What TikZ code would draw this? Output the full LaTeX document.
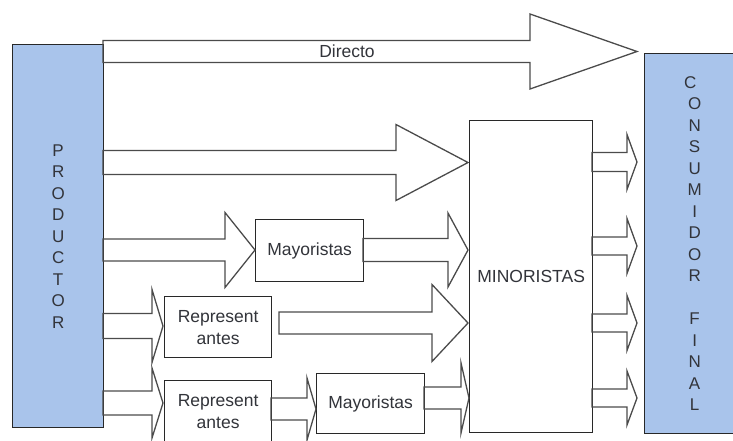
\documentclass[tikz,border=0pt]{standalone}
\usepackage{fontspec}
\setmainfont{Liberation Sans}
\definecolor{bluefill}{RGB}{169,196,235}
\definecolor{boxline}{RGB}{40,40,40}
\definecolor{arrowline}{RGB}{75,75,75}
\definecolor{txt}{RGB}{50,52,58}
% hollow block arrow: tail x, head start x, tip x, centre y, shaft half-height, head half-height
\newcommand\blockarrow[6]{%
  \draw[flow] (#1,#4-#5) -- (#2,#4-#5) -- (#2,#4-#6) -- (#3,#4)
    -- (#2,#4+#6) -- (#2,#4+#5) -- (#1,#4+#5) -- cycle;}
\begin{document}
\begin{tikzpicture}[x=1pt,y=-1pt,
  box/.style={draw=boxline, line width=1.3pt, fill=white, inner sep=0pt,
    text=txt, anchor=north west, align=center,
    font=\fontsize{17.5}{22}\selectfont},
  bluebox/.style={box, fill=bluefill, font=\fontsize{17}{21.5}\selectfont},
  flow/.style={draw=arrowline, line width=1.3pt, line join=miter},
  lbl/.style={text=txt, font=\fontsize{17.5}{21.5}\selectfont, inner sep=0pt}]
\useasboundingbox (0,0) rectangle (733,440);
\clip (0,0) rectangle (733,440);

% actors
\node[bluebox, minimum width=91pt, minimum height=383pt] (prod) at (12,44)
  {P\\R\\O\\D\\U\\C\\T\\O\\R};
\node[bluebox, minimum width=100pt, minimum height=380pt, text width=91pt] (cons) at (644,53)
  {\hspace*{-9pt}C\\O\\N\\S\\U\\M\\I\\D\\O\\R\\\mbox{}\\F\\I\\N\\A\\L};

% intermediaries
\node[box, minimum width=123pt, minimum height=312pt] (minor) at (469,120) {MINORISTAS};
\node[box, minimum width=108pt, minimum height=62pt] (may1) at (255,219) {Mayoristas};
\node[box, minimum width=107pt, minimum height=61pt] (rep1) at (164,296) {Represent\\antes};
\node[box, minimum width=107pt, minimum height=61pt] (rep2) at (164,380) {Represent\\antes};
\node[box, minimum width=108pt, minimum height=60pt] (may2) at (316,373) {Mayoristas};

% distribution channels
\blockarrow{103}{530}{637}{51.5}{11}{37.5}
\node[lbl] (directo) at (347,51) {Directo};
\blockarrow{103}{396}{468}{162.5}{12}{38}
\blockarrow{103}{225}{255}{250}{11}{37.5}
\blockarrow{363}{448}{468}{250}{11.5}{37}
\blockarrow{103}{152}{163}{326}{12.5}{36.5}
\blockarrow{279}{432}{468}{323}{11}{38.5}
\blockarrow{103}{152}{163}{403}{12}{35}
\blockarrow{271}{307}{316}{409}{11}{31}
\blockarrow{424}{461}{469}{398}{11}{35}

% retail to final consumer
\blockarrow{592}{627}{637}{162}{9.5}{27.5}
\blockarrow{592}{627}{637}{246}{9}{27.5}
\blockarrow{592}{627}{637}{323}{9}{27.5}
\blockarrow{592}{627}{637}{398}{9}{27}
\end{tikzpicture}
\end{document}
